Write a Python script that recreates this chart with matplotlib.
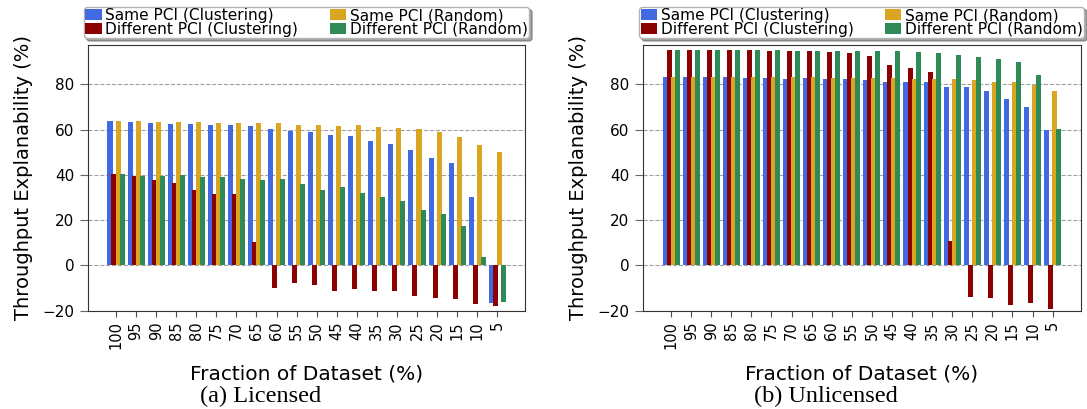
import numpy as np
import matplotlib.pyplot as plt

fractions = [100, 95, 90, 85, 80, 75, 70, 65, 60, 55, 50, 45, 40, 35, 30, 25, 20, 15, 10, 5]

# Licensed band
lic_same_clu = [63.7, 63.3, 62.9, 62.4, 62.4, 62.0, 62.0, 61.5, 60.2, 59.3,
                58.9, 57.6, 57.1, 54.9, 53.6, 51.0, 47.4, 45.2, 30.2, -16.4]
lic_diff_clu = [40.4, 39.5, 37.8, 36.4, 33.4, 31.6, 31.6, 10.4, -9.8, -7.6,
                -8.5, -11.1, -10.3, -11.1, -11.1, -13.3, -14.2, -14.7, -16.9, -17.8]
lic_same_rnd = [63.7, 63.7, 63.3, 63.3, 63.3, 62.9, 62.9, 62.9, 62.9, 62.0,
                62.0, 61.5, 62.0, 61.1, 60.7, 60.2, 58.9, 56.7, 53.2, 50.1]
lic_diff_rnd = [40.4, 39.5, 39.5, 40.0, 39.1, 39.1, 38.2, 37.8, 38.2, 36.0,
                33.4, 34.7, 32.0, 30.2, 28.5, 24.5, 22.8, 17.5, 3.8, -16.0]

# Unlicensed band
unl_same_clu = [83.1, 83.1, 83.1, 83.1, 82.7, 82.7, 82.2, 82.7, 82.2, 82.2,
                81.8, 80.9, 80.9, 80.9, 78.7, 78.7, 77.0, 73.4, 69.9, 59.8]
unl_diff_clu = [95.0, 95.0, 95.0, 95.0, 95.0, 94.6, 94.6, 94.6, 94.1, 93.7,
                92.4, 88.4, 87.1, 85.3, 10.9, -13.8, -14.2, -17.3, -16.4, -19.1]
unl_same_rnd = [83.1, 83.1, 83.1, 83.1, 83.1, 83.1, 83.1, 83.1, 82.7, 82.7,
                82.7, 82.7, 82.2, 82.2, 82.2, 81.8, 80.9, 80.9, 79.6, 77.0]
unl_diff_rnd = [95.0, 95.0, 95.0, 95.0, 95.0, 95.0, 94.6, 94.6, 94.6, 94.6,
                94.6, 94.6, 94.1, 93.7, 92.8, 91.9, 91.1, 89.7, 84.0, 60.2]

labels = ['Same PCI (Clustering)', 'Different PCI (Clustering)',
          'Same PCI (Random)', 'Different PCI (Random)']
colors = ['royalblue', 'darkred', 'goldenrod', 'seagreen']

fig = plt.figure(figsize=(10.87, 4.09), dpi=100)
ax1 = fig.add_axes([0.0807, 0.2403, 0.4026, 0.6504])
ax2 = fig.add_axes([0.5913, 0.2403, 0.4029, 0.6504])

x = np.arange(len(fractions))
offsets = [-0.3, -0.1, 0.1, 0.3]

def draw(ax, series):
    for s, off, c, lab in zip(series, offsets, colors, labels):
        ax.bar(x + off, s, width=0.25, color=c, label=lab, zorder=3)
    ax.set_xlim(-1.41, 20.4)
    ax.set_ylim(-20, 97.5)
    ax.set_yticks([-20, 0, 20, 40, 60, 80])
    ax.set_xticks(x)
    ax.set_xticklabels([str(f) for f in fractions], rotation=90)
    ax.tick_params(axis='y', labelsize=11, length=6, color='0.4')
    ax.tick_params(axis='x', labelsize=10.5, length=4, color='0.3')
    ax.grid(axis='y', linestyle='--', color='gray', alpha=0.75, zorder=0)
    for sp in ax.spines.values():
        sp.set_color('0.2')
    ax.set_ylabel('Throughput Explanability (%)', fontsize=14, labelpad=7)
    ax.set_xlabel('Fraction of Dataset (%)', fontsize=14.5, labelpad=11)
    ax.legend(loc='lower center', bbox_to_anchor=(0.5, 1.0), ncol=2,
              fontsize=11.1, handlelength=1.05, handletextpad=0.25,
              columnspacing=2.05, borderpad=0.1, labelspacing=-0.1,
              borderaxespad=0.42, shadow=True, fancybox=True, edgecolor='0.7')

draw(ax1, [lic_same_clu, lic_diff_clu, lic_same_rnd, lic_diff_rnd])
draw(ax2, [unl_same_clu, unl_diff_clu, unl_same_rnd, unl_diff_rnd])

fig.text(261 / 1087, 1 - 396 / 409, '(a) Licensed', family='Liberation Serif',
         fontsize=17.5, ha='center', va='center')
fig.text(826 / 1087, 1 - 396 / 409, '(b) Unlicensed', family='Liberation Serif',
         fontsize=17.5, ha='center', va='center')

fig.savefig('out.png', dpi=100)
